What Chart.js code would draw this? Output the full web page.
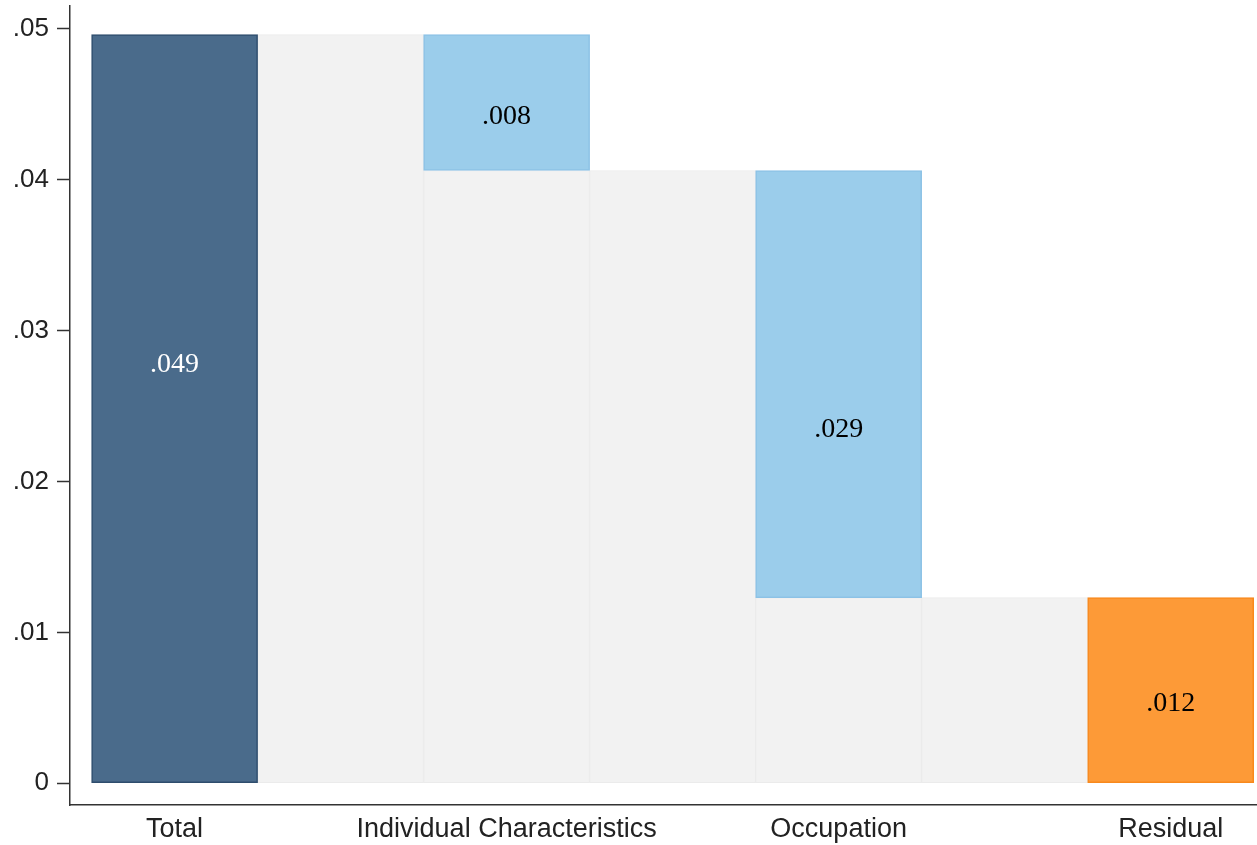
<!DOCTYPE html>
<html>
<head>
<meta charset="utf-8">
<script src="https://cdn.jsdelivr.net/npm/chart.js@4/dist/chart.umd.min.js"></script>
<style>
  html, body { margin: 0; padding: 0; background: #ffffff; }
  #wrap { width: 1257px; height: 845px; position: relative; }
</style>
</head>
<body>
<div id="wrap"><canvas id="c" width="1257" height="845"></canvas></div>
<script>
// ---- data ----
const categories = ["Total", "Individual Characteristics", "Occupation", "Residual"];
const totalValue = 0.0496;
const componentValues = [0.0090, 0.0283, 0.0123]; // Individual, Occupation, Residual
const valueLabels = [".049", ".008", ".029", ".012"];
const yTickValues = [0, 0.01, 0.02, 0.03, 0.04, 0.05];
const yTickLabels = ["0", ".01", ".02", ".03", ".04", ".05"];

// ---- build waterfall (slots 1..7: bar, gap, bar, gap, ...) ----
const colored = [];
const gray = [];
const catSlot = {};
colored.push({ x: 1, y: [0, totalValue] });
catSlot[1] = categories[0];
let level = totalValue;
componentValues.forEach((v, i) => {
  const slot = 3 + i * 2;
  const last = i === componentValues.length - 1;
  gray.push({ x: slot - 1, y: [0, level] });
  const lo = last ? 0 : level - v;
  colored.push({ x: slot, y: [lo, level] });
  if (!last) gray.push({ x: slot, y: [0, lo] });
  level = level - v;
  catSlot[slot] = categories[i + 1];
});

const fillColors = ["#4a6b8b", "#9bcdeb", "#9bcdeb", "#fd9a37"];
const borderColors = ["#2e4d6d", "#8cc2e6", "#8cc2e6", "#f8891d"];
const labelColors = ["#ffffff", "#000000", "#000000", "#000000"];
const labelAnchor = [0.5586, 0.398, 0.393, 0.429]; // fraction of bar height (style)

const valueLabelPlugin = {
  id: 'valueLabels',
  afterDatasetsDraw(chart) {
    const meta = chart.getDatasetMeta(0);
    const ys = chart.scales.y;
    const ctx = chart.ctx;
    ctx.save();
    ctx.font = '28px "Liberation Serif", "Times New Roman", serif';
    ctx.textAlign = 'center';
    ctx.textBaseline = 'middle';
    meta.data.forEach((el, i) => {
      const [lo, hi] = colored[i].y;
      const v = lo + (hi - lo) * labelAnchor[i];
      ctx.fillStyle = labelColors[i];
      ctx.fillText(valueLabels[i], el.x, ys.getPixelForValue(v));
    });
    ctx.restore();
  }
};

new Chart(document.getElementById('c'), {
  type: 'bar',
  data: {
    datasets: [
      {
        data: colored,
        backgroundColor: fillColors,
        borderColor: borderColors,
        borderWidth: 1.5,
        borderSkipped: false,
        grouped: false,
        barPercentage: 1,
        categoryPercentage: 1
      },
      {
        data: gray,
        backgroundColor: "#f2f2f2",
        borderColor: "#ebebeb",
        borderWidth: 1,
        borderSkipped: false,
        grouped: false,
        barPercentage: 1,
        categoryPercentage: 1
      }
    ]
  },
  options: {
    responsive: false,
    animation: false,
    layout: { padding: { top: 6, right: 0, left: 0, bottom: 0 } },
    plugins: { legend: { display: false }, tooltip: { enabled: false } },
    scales: {
      x: {
        type: 'linear',
        offset: false,
        min: 0.37,
        max: 7.52,
        afterBuildTicks(scale) {
          scale.ticks = Object.keys(catSlot).map(k => ({ value: Number(k) }));
        },
        afterFit(scale) {
          scale.height = 40;
          scale.paddingLeft = 0;
          scale.paddingRight = 0;
        },
        grid: { display: false, drawTicks: false, offset: false },
        border: { display: true, color: '#333333', width: 1.5 },
        ticks: {
          autoSkip: false,
          maxRotation: 0,
          padding: 8,
          color: '#222222',
          font: { family: '"Liberation Sans", Arial, sans-serif', size: 27 },
          callback: (v) => catSlot[v] || ''
        }
      },
      y: {
        min: -0.00144,
        max: 0.0515,
        afterBuildTicks(scale) {
          scale.ticks = yTickValues.map(v => ({ value: v }));
        },
        afterFit(scale) {
          scale.width = 70;
          scale.paddingTop = 0;
          scale.paddingBottom = 0;
        },
        grid: { display: true, drawOnChartArea: false, drawTicks: true, tickLength: 13, tickColor: '#333333', tickWidth: 1.5 },
        border: { display: true, color: '#333333', width: 1.5 },
        ticks: {
          padding: 8,
          color: '#222222',
          font: { family: '"Liberation Sans", Arial, sans-serif', size: 26 },
          callback: (v) => {
            const i = yTickValues.findIndex(t => Math.abs(t - v) < 1e-9);
            return i >= 0 ? yTickLabels[i] : '';
          }
        }
      }
    }
  },
  plugins: [valueLabelPlugin]
});
</script>
</body>
</html>
